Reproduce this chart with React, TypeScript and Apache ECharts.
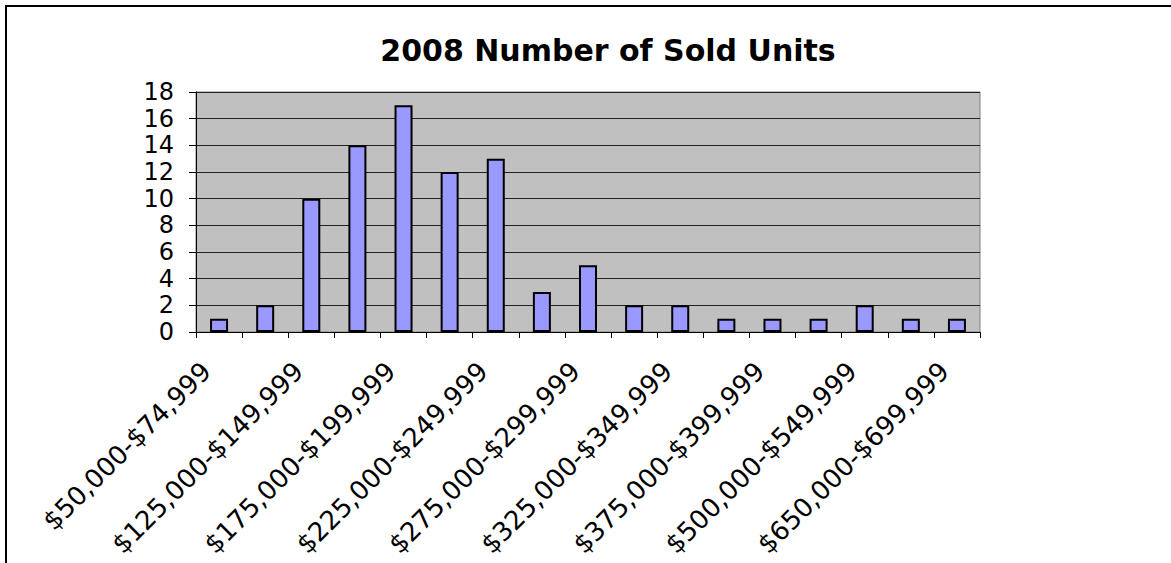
import React, { useEffect, useRef } from "react";
import * as echarts from "echarts";

const titleText = "2008 Number of Sold Units";

const categories = [
  "$50,000-$74,999",
  "$100,000-$124,999",
  "$125,000-$149,999",
  "$150,000-$174,999",
  "$175,000-$199,999",
  "$200,000-$224,999",
  "$225,000-$249,999",
  "$250,000-$274,999",
  "$275,000-$299,999",
  "$300,000-$324,999",
  "$325,000-$349,999",
  "$350,000-$374,999",
  "$375,000-$399,999",
  "$400,000-$449,999",
  "$500,000-$549,999",
  "$600,000-$649,999",
  "$650,000-$699,999",
];

const soldUnits = [1, 2, 10, 14, 17, 12, 13, 3, 5, 2, 2, 1, 1, 1, 2, 1, 1];

const yMin = 0;
const yMax = 18;
const yStep = 2;

const FONT = "DejaVu Sans";

export default function App() {
  const ref = useRef<HTMLDivElement>(null);

  useEffect(() => {
    if (!ref.current) return;
    const chart = echarts.init(ref.current, null, { renderer: "svg" });
    chart.setOption({
      animation: false,
      backgroundColor: "#ffffff",
      title: {
        text: titleText,
        left: 603,
        top: 30,
        textAlign: "center",
        textStyle: {
          fontFamily: FONT,
          fontWeight: "bold",
          fontSize: 30,
          color: "#000000",
        },
      },
      graphic: [
        {
          type: "rect",
          shape: { x: 6, y: 6, width: 1300, height: 700 },
          style: { fill: "none", stroke: "#000000", lineWidth: 2 },
          silent: true,
        },
      ],
      grid: {
        left: 196,
        right: 191,
        top: 92,
        bottom: 231,
        show: true,
        backgroundColor: "#C0C0C0",
        borderColor: "#808080",
        borderWidth: 1,
      },
      xAxis: {
        type: "category",
        data: categories,
        boundaryGap: true,
        axisLine: { show: true, lineStyle: { color: "#000000", width: 1 } },
        axisTick: {
          show: true,
          interval: 0,
          alignWithLabel: false,
          inside: false,
          length: 6,
          lineStyle: { color: "#000000", width: 1 },
        },
        axisLabel: {
          interval: 1,
          rotate: 45,
          margin: 22,
          padding: [0, 18, 0, 0],
          fontFamily: FONT,
          fontSize: 26,
          color: "#000000",
        },
        splitLine: { show: false },
      },
      yAxis: {
        type: "value",
        min: yMin,
        max: yMax,
        interval: yStep,
        axisLine: { show: true, lineStyle: { color: "#000000", width: 1 } },
        axisTick: {
          show: true,
          inside: false,
          length: 7,
          lineStyle: { color: "#000000", width: 1 },
        },
        axisLabel: {
          margin: 22,
          fontFamily: FONT,
          fontSize: 24,
          color: "#000000",
        },
        splitLine: { show: true, lineStyle: { color: "#222222", width: 1 } },
      },
      series: [
        {
          type: "bar",
          data: soldUnits,
          barWidth: 18,
          itemStyle: {
            color: "#9999FF",
            borderColor: "#000000",
            borderWidth: 2,
          },
        },
      ],
    });
    return () => {
      chart.dispose();
    };
  }, []);

  return (
    <div
      ref={ref}
      style={{
        position: "fixed",
        left: 0,
        top: 0,
        width: 1171,
        height: 563,
      }}
    />
  );
}
